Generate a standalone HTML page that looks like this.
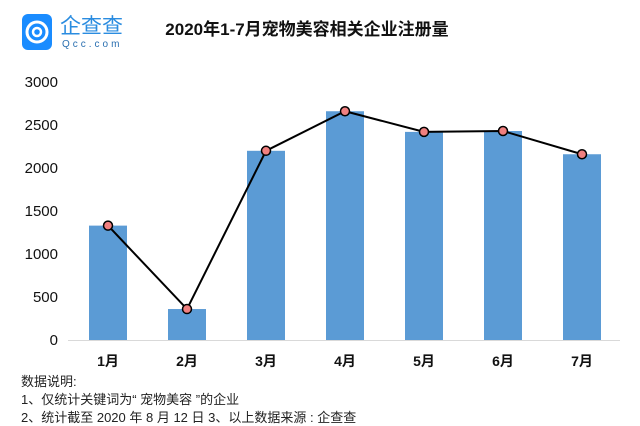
<!DOCTYPE html>
<html><head><meta charset="utf-8"><style>
body{margin:0;width:640px;height:426px;background:#fff;overflow:hidden;font-family:"Liberation Sans","Noto Sans CJK SC",sans-serif}
svg{display:block}
</style></head><body>
<svg width="640" height="426">
<g>
<rect x="22" y="14" width="30" height="36" rx="6" fill="#1a8cff"/>
<circle cx="37" cy="32" r="10" fill="none" stroke="#fff" stroke-width="3"/>
<circle cx="37" cy="32" r="4" fill="none" stroke="#fff" stroke-width="2.5"/>
<text x="60" y="33" font-size="21" fill="#2a8ce0" font-family="Noto Sans CJK SC,sans-serif">企查查</text>
<text x="62" y="47" font-size="10" fill="#2a6fb0" letter-spacing="3">Qcc.com</text>
</g>
<text x="307" y="35" text-anchor="middle" font-size="17" font-weight="bold" fill="#111">2020年1-7月宠物美容相关企业注册量</text>
<g id="yaxis"></g>
<line x1="68" y1="340.5" x2="620" y2="340.5" stroke="#d9d9d9"/>
<g id="bars"></g>
<g id="line"></g>
<g id="xaxis"></g>
<g font-size="13" fill="#222">
<text x="21" y="386">数据说明:</text>
<text x="21" y="404">1、仅统计关键词为“ 宠物美容 ”的企业</text>
<text x="21" y="422">2、统计截至 2020 年 8 月 12 日  3、以上数据来源 : 企查查</text>
</g>
</svg>
<script>
const categories=["1月","2月","3月","4月","5月","6月","7月"];
const barValues=[1330,360,2200,2660,2420,2430,2160];
const lineValues=[1330,360,2200,2660,2420,2430,2160];
const yTicks=[0,500,1000,1500,2000,2500,3000];
const NS="http://www.w3.org/2000/svg";
const y=v=>340-v*258/3000;
const x=i=>108+i*79;
function mk(t,a,p){const e=document.createElementNS(NS,t);for(const k in a)e.setAttribute(k,a[k]);p.appendChild(e);return e;}
const ya=document.getElementById('yaxis');
yTicks.forEach(t=>{const e=mk('text',{x:58,y:y(t)+5,'text-anchor':'end','font-size':15,fill:'#111'},ya);e.textContent=t;

});
const bg=document.getElementById('bars');
barValues.forEach((v,i)=>{const r=mk('rect',{x:x(i)-19,y:y(v),width:38,height:340-y(v),fill:'#5b9bd5'},bg);

});
const lg=document.getElementById('line');
const pl=mk('polyline',{points:lineValues.map((v,i)=>x(i)+','+y(v)).join(' '),fill:'none',stroke:'#000','stroke-width':2},lg);


lineValues.forEach((v,i)=>{const c=mk('circle',{cx:x(i),cy:y(v),r:4.5,fill:'#f08080',stroke:'#000','stroke-width':1.5},lg);

});
const xa=document.getElementById('xaxis');
categories.forEach((c,i)=>{const e=mk('text',{x:x(i),y:366,'text-anchor':'middle','font-size':14,'font-weight':'bold',fill:'#111'},xa);e.textContent=c;

});
</script>
</body></html>
